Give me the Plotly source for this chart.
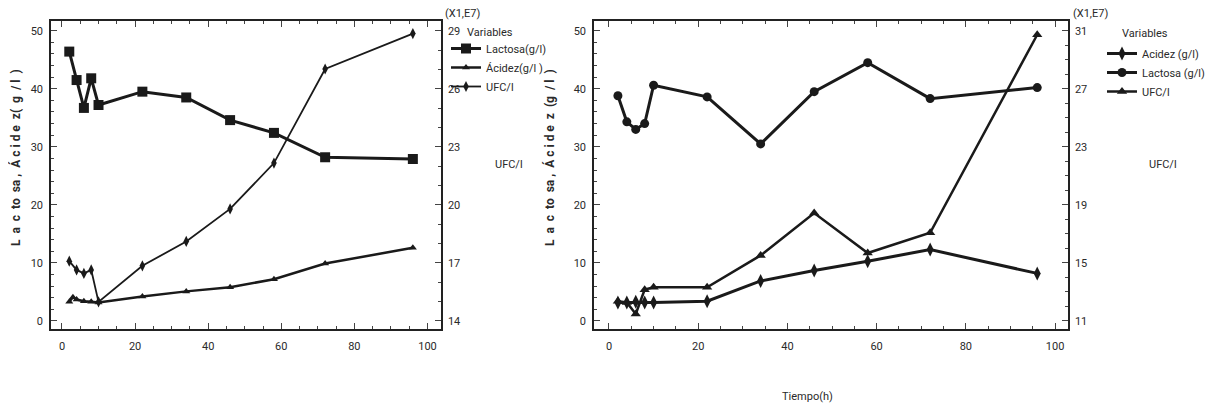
import plotly.graph_objects as go

# ---------------- data ----------------
t_left = [2, 4, 6, 8, 10, 22, 34, 46, 58, 72, 96]
lactosa_left = [46.4, 41.5, 36.7, 41.8, 37.2, 39.5, 38.5, 34.6, 32.4, 28.2, 27.9]
t_acid_left = [2, 3, 4, 6, 8, 10, 22, 34, 46, 58, 72, 96]
acidez_left = [3.3, 4.1, 3.7, 3.4, 3.3, 3.2, 4.2, 5.1, 5.8, 7.2, 9.9, 12.6]
ufc_left = [17.09, 16.64, 16.46, 16.64, 14.99, 16.85, 18.11, 19.79, 22.16, 27.02, 28.85]  # x1E7

t_right = [2, 4, 6, 8, 10, 22, 34, 46, 58, 72, 96]
lactosa_right = [38.8, 34.3, 33.0, 34.0, 40.6, 38.6, 30.5, 39.5, 44.5, 38.3, 40.2]
acidez_right = [3.2, 3.2, 3.3, 3.2, 3.2, 3.4, 6.9, 8.7, 10.3, 12.3, 8.2]
ufc_right = [12.36, 12.28, 11.48, 13.16, 13.32, 13.32, 15.52, 18.44, 15.68, 17.08, 30.72]  # x1E7

xticks = [0, 20, 40, 60, 80, 100]
yticks = [0, 10, 20, 30, 40, 50]
ufc_ticks_left = [14, 17, 20, 23, 26, 29]
ufc_ticks_right = [11, 15, 19, 23, 27, 31]

FONT = "Liberation Sans Narrow, Roboto, sans-serif"
INK = "#1a1a1a"
TXT = "#2a2a2a"

# page body has an 8px default margin; convert target pixels to paper coords
OFF = 8
W, H = 1219 - OFF, 409 - OFF


def px(x):
    return (x - OFF) / W


def py(y):
    return 1 - (y - OFF) / H


fig = go.Figure()

# left chart
fig.add_trace(go.Scatter(x=t_left, y=lactosa_left, name="Lactosa(g/l)", mode="lines+markers",
                         line=dict(color=INK, width=3), marker=dict(symbol="square", size=10, color=INK),
                         xaxis="x", yaxis="y", legend="legend"))
fig.add_trace(go.Scatter(x=t_acid_left, y=acidez_left, name="Ácidez(g/l )", mode="lines+markers",
                         line=dict(color=INK, width=2.5), marker=dict(symbol="triangle-up", size=7, color=INK),
                         xaxis="x", yaxis="y", legend="legend"))
fig.add_trace(go.Scatter(x=t_left, y=ufc_left, name="UFC/l", mode="lines+markers",
                         line=dict(color=INK, width=1.8), marker=dict(symbol="diamond-tall", size=8, color=INK),
                         xaxis="x", yaxis="y2", legend="legend"))

# right chart
fig.add_trace(go.Scatter(x=t_right, y=acidez_right, name="Acidez (g/l)", mode="lines+markers",
                         line=dict(color=INK, width=3), marker=dict(symbol="diamond-tall", size=10, color=INK),
                         xaxis="x2", yaxis="y3", legend="legend2"))
fig.add_trace(go.Scatter(x=t_right, y=lactosa_right, name="Lactosa (g/l)", mode="lines+markers",
                         line=dict(color=INK, width=3), marker=dict(symbol="circle", size=9, color=INK),
                         xaxis="x2", yaxis="y3", legend="legend2"))
fig.add_trace(go.Scatter(x=t_right, y=ufc_right, name="UFC/l", mode="lines+markers",
                         line=dict(color=INK, width=2.5), marker=dict(symbol="triangle-up", size=9, color=INK),
                         xaxis="x2", yaxis="y4", legend="legend2"))

ylo, yhi = -1.38, 51.67
tickfont = dict(family=FONT, size=11, color=TXT)
ydom = [py(329), py(21)]


def xax(domain, rng):
    return dict(domain=domain, range=rng, tickvals=xticks, ticks="inside", ticklen=6,
                showline=True, linecolor="#222", linewidth=1.5, mirror="ticks", showgrid=False,
                zeroline=False, tickfont=tickfont, ticklabelstandoff=6,
                minor=dict(dtick=5, ticks="inside", ticklen=3, tick0=0))


def yax(anchor):
    return dict(domain=ydom, range=[ylo, yhi], tickvals=yticks, ticks="inside", ticklen=6,
                showline=True, linecolor="#222", linewidth=1.5, showgrid=False, zeroline=False,
                anchor=anchor, tickfont=tickfont, ticklabelstandoff=4,
                minor=dict(dtick=2, ticks="inside", ticklen=3, tick0=0))


def y2ax(overlay, anchor, base, k, ticks):
    return dict(overlaying=overlay, anchor=anchor, side="right",
                range=[base + k * ylo, base + k * yhi], tickvals=ticks, ticks="inside", ticklen=6,
                showline=True, linecolor="#222", linewidth=1.5, showgrid=False, zeroline=False,
                tickfont=tickfont, ticklabelstandoff=3,
                minor=dict(dtick=1, ticks="inside", ticklen=3, tick0=0))


legfont = dict(family=FONT, size=11, color=TXT)
fig.update_layout(
    width=W, height=H,
    margin=dict(l=0, r=0, t=0, b=0),
    paper_bgcolor="white", plot_bgcolor="white",
    font=dict(family=FONT, color=TXT, size=11),
    xaxis=xax([px(51), px(441)], [-3.0, 103.7]),
    yaxis=yax("x"),
    yaxis2=y2ax("y", "x", 14, 0.3, ufc_ticks_left),
    xaxis2=xax([px(594), px(1068)], [-3.36, 102.9]),
    yaxis3=yax("x2"),
    yaxis4=y2ax("y3", "x2", 11, 0.4, ufc_ticks_right),
    legend=dict(x=px(446), y=py(34), xanchor="left", yanchor="top", bgcolor="rgba(0,0,0,0)",
                font=legfont, tracegroupgap=0, itemwidth=30),
    legend2=dict(x=px(1102), y=py(39), xanchor="left", yanchor="top", bgcolor="rgba(0,0,0,0)",
                 font=legfont, tracegroupgap=0, itemwidth=30),
    showlegend=True,
)

ann = dict(xref="paper", yref="paper", showarrow=False, font=dict(family=FONT, size=11, color=TXT))
fig.add_annotation(text="(X1,E7)", x=px(443), y=py(13), xanchor="left", yanchor="middle", **ann)
fig.add_annotation(text="(X1,E7)", x=px(1071), y=py(13), xanchor="left", yanchor="middle", **ann)
fig.add_annotation(text="Variables", x=px(465), y=py(32), xanchor="left", yanchor="middle", **ann)
fig.add_annotation(text="Variables", x=px(1120), y=py(33), xanchor="left", yanchor="middle", **ann)
fig.add_annotation(text="UFC/l", x=px(493), y=py(165), xanchor="left", yanchor="middle", **ann)
fig.add_annotation(text="UFC/l", x=px(1147), y=py(165), xanchor="left", yanchor="middle", **ann)
fig.add_annotation(text="Tiempo(h)", x=px(807), y=py(396), xanchor="center", yanchor="middle", **ann)
ttl = dict(xref="paper", yref="paper", showarrow=False, font=dict(family=FONT, size=12, color=TXT))
fig.add_annotation(text="<b>L  a  c  to  sa ,  Á c i d e  z(  g  / l  )</b>", x=px(15), y=py(158),
                   textangle=-90, xanchor="center", yanchor="middle", **ttl)
fig.add_annotation(text="<b>L  a  c  to  sa ,  Á c i d e  z  (g  / l  )</b>", x=px(549), y=py(158),
                   textangle=-90, xanchor="center", yanchor="middle", **ttl)

fig.write_html("out.html")
